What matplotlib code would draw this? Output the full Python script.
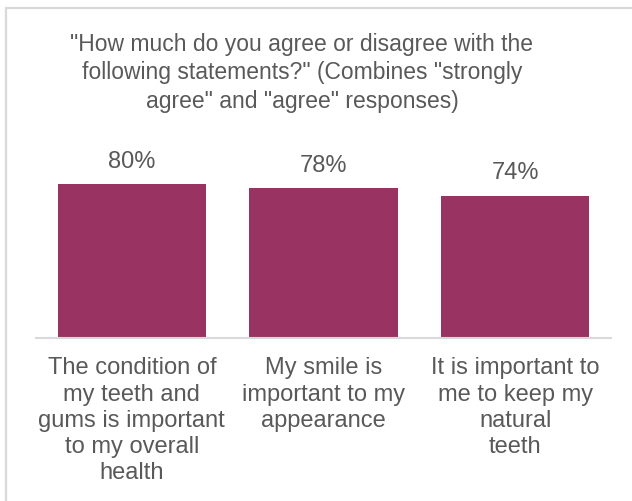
import matplotlib.pyplot as plt
from matplotlib.patches import Rectangle

categories = [
    "The condition of\nmy teeth and\ngums is important\nto my overall\nhealth",
    "My smile is\nimportant to my\nappearance",
    "It is important to\nme to keep my\nnatural\nteeth",
]
values = [80, 78, 74]
title = ('"How much do you agree or disagree with the\n'
         'following statements?" (Combines "strongly\n'
         'agree" and "agree" responses)')

BAR_COLOR = "#993462"
TEXT_COLOR = "#595959"
W, H = 632, 501

plt.rcParams["font.family"] = ["Liberation Sans", "DejaVu Sans"]

fig = plt.figure(figsize=(W / 100, H / 100), dpi=100)

# light frame around the chart area
fig.patches.append(Rectangle((6 / W, -0.1), 1.2, (H - 8) / H + 0.1,
                             transform=fig.transFigure, fill=False,
                             edgecolor="#D9D9D9", linewidth=1.6))

ax = fig.add_axes([36 / W, 163 / H, 575 / W, 192.5 / H])
x = range(len(values))
ax.bar(x, values, width=0.775, color=BAR_COLOR)
ax.set_xlim(-0.5, len(values) - 0.5)
ax.set_ylim(0, 100)

for i, v in enumerate(values):
    ax.annotate(f"{v}%", (i, v), xytext=(0, 8), textcoords="offset points",
                ha="center", va="bottom", fontsize=17, color=TEXT_COLOR)
    ax.annotate(categories[i], (i, 0), xytext=(0, -14), textcoords="offset points",
                ha="center", va="top", fontsize=17, color=TEXT_COLOR,
                linespacing=1.25, annotation_clip=False)

for side in ("top", "left", "right"):
    ax.spines[side].set_visible(False)
ax.spines["bottom"].set_color("#D9D9D9")
ax.spines["bottom"].set_linewidth(1.5)
ax.set_xticks([])
ax.set_yticks([])

fig.text(302 / W, 1 - 33 / H, title, ha="center", va="top", fontsize=16.5,
         color=TEXT_COLOR, multialignment="center", linespacing=1.3)

fig.savefig("out.png", dpi=100)
